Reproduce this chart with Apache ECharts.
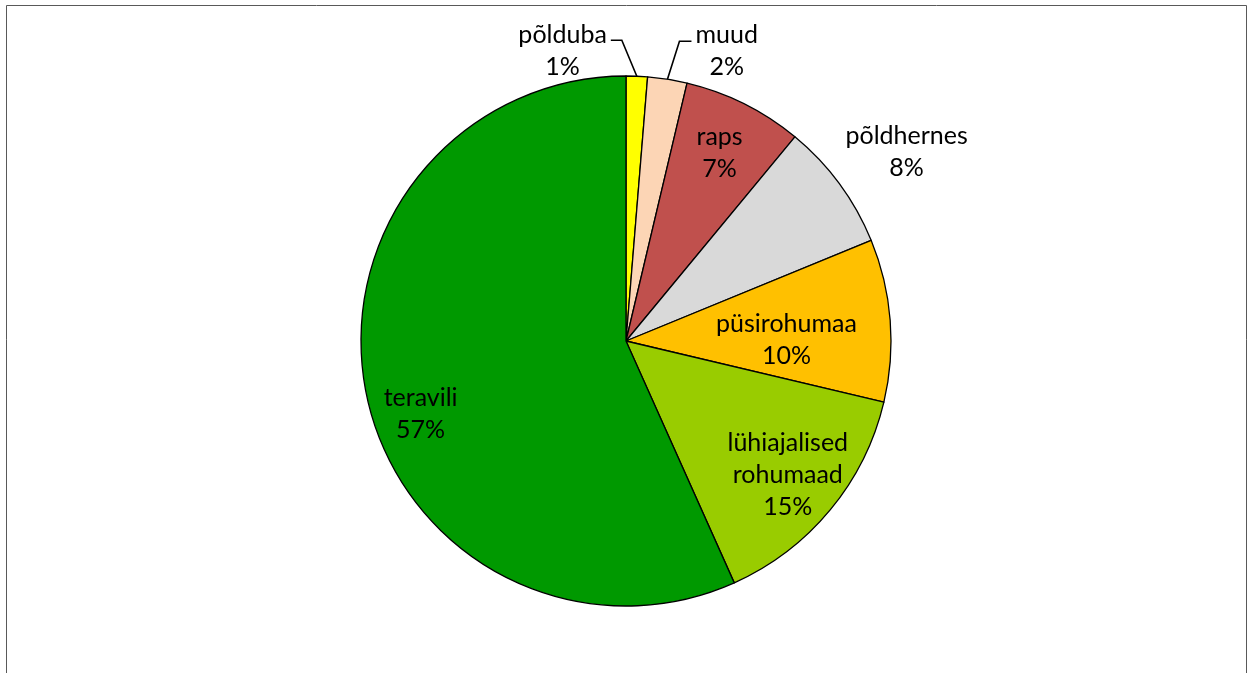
<!DOCTYPE html>
<html>
<head>
<meta charset="utf-8">
<script src="https://cdn.jsdelivr.net/npm/echarts@6/dist/echarts.min.js"></script>
<style>
  html, body { margin: 0; padding: 0; background: #fff; }
  #main { width: 1249px; height: 673px; }
</style>
</head>
<body>
<div id="main"></div>
<script>
var categories = ['põlduba', 'muud', 'raps', 'põldhernes', 'püsirohumaa', 'lühiajalised\nrohumaad', 'teravili'];
var shares = [1.3, 2.4, 7.3, 7.8, 9.9, 14.6, 56.7];
var sliceColors = ['#FFFF00', '#FCD5B5', '#C0504D', '#D9D9D9', '#FFC000', '#99CC00', '#009900'];

// which label sits in which ring (index into categories)
var outerLeader = [0, 1];
var midRing = [2, 5, 6];
var innerRing = [4];
var farRing = [3];

// tiny helper instead of jQuery
var $ = {
	extend: function (a, b) {
		for (var k in b) a[k] = b[k];
		return a;
	}
};

var chart = echarts.init(document.getElementById('main'));

var CENTER = [626, 341];
var R = 265;
var labelFont = {
	fontFamily: 'Lato, Calibri, sans-serif',
	fontSize: 25,
	lineHeight: 32,
	color: '#000'
};

function buildData(showList, visible) {
	var out = [];
	for (var i = 0; i < categories.length; i++) {
		var show = showList.indexOf(i) > -1;
		out.push({
			name: categories[i],
			value: shares[i],
			itemStyle: visible ? {
				color: sliceColors[i],
				borderColor: '#000',
				borderWidth: 1.3
			} : {
				color: 'rgba(0,0,0,0)',
				borderWidth: 0
			},
			label: { show: show },
			labelLine: {
				show: show,
				lineStyle: { color: '#000', width: 1.6 }
			}
		});
	}
	return out;
}

function labelSeries(showList, inner, outer, layoutFn) {
	return {
		type: 'pie',
		center: CENTER,
		radius: [inner, outer],
		startAngle: 90,
		clockwise: true,
		silent: true,
		z: 5,
		percentPrecision: 0,
		avoidLabelOverlap: false,
		label: $.extend({
			position: 'inside',
			formatter: '{b}\n{d}%',
			align: 'center'
		}, labelFont),
		labelLine: { show: false },
		labelLayout: layoutFn,
		data: buildData(showList, false)
	};
}

var option = {
	backgroundColor: '#fff',
	animation: false,
	graphic: [{
		type: 'rect',
		shape: { x: 6.5, y: 5.5, width: 1240, height: 720 },
		style: { fill: 'none', stroke: '#595959', lineWidth: 1 },
		silent: true
	}],
	series: [
		{
			type: 'pie',
			center: CENTER,
			radius: R,
			startAngle: 90,
			clockwise: true,
			percentPrecision: 0,
			avoidLabelOverlap: false,
			label: $.extend({
				position: 'outside',
				formatter: '{b}\n{d}%',
				align: 'center'
			}, labelFont),
			labelLine: {
				length: 38,
				length2: 12,
				lineStyle: { color: '#000', width: 1.6 }
			},
			labelLayout: function (p) {
				var pts = p.labelLinePoints;
				if (!pts) return {};
				var p0 = pts[0];
				var w = p.labelRect.width;
				if (p.dataIndex === 0) {
					return {
						labelLinePoints: [p0, [p0[0] - 15, p0[1] - 36], [p0[0] - 26, p0[1] - 36]],
						x: p0[0] - 30 - w / 2,
						y: p0[1] - 25,
						align: 'center',
						verticalAlign: 'middle'
					};
				}
				if (p.dataIndex === 1) {
					return {
						labelLinePoints: [p0, [p0[0] + 12, p0[1] - 38], [p0[0] + 24, p0[1] - 38]],
						x: p0[0] + 28 + w / 2,
						y: p0[1] - 28,
						align: 'center',
						verticalAlign: 'middle'
					};
				}
				return {};
			},
			data: buildData(outerLeader, true)
		},
		labelSeries(midRing, 150, 264, function (p) {
			return p.dataIndex === 6 ? { dy: 29 } : {};
		}),
		labelSeries(innerRing, 52, 264, function (p) {
			return { dy: 12 };
		}),
		labelSeries(farRing, 300, 376, function (p) {
			return { dx: 6, dy: 13 };
		})
	]
};

chart.setOption(option);
</script>
</body>
</html>
